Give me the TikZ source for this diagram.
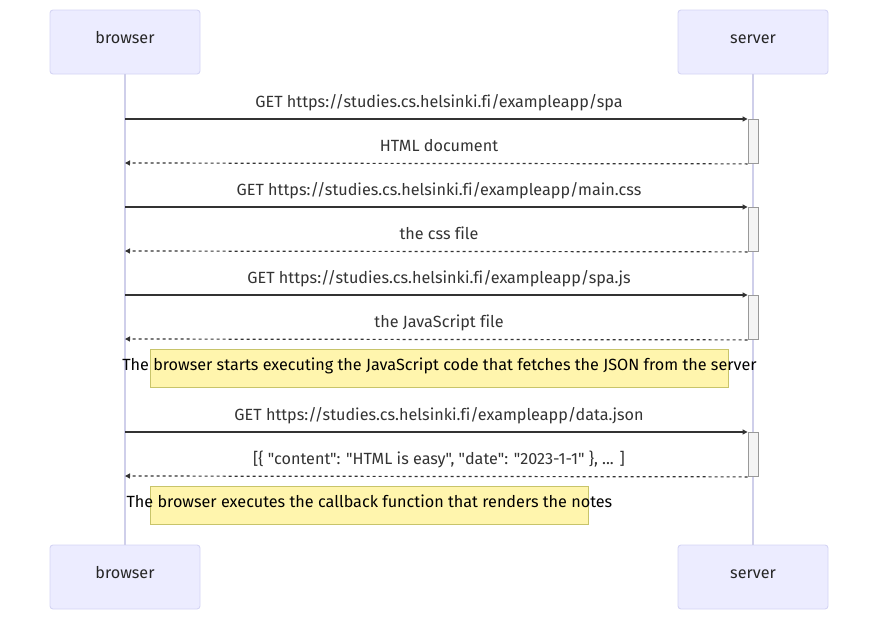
\documentclass[tikz,border=0pt]{standalone}
\usepackage{fontspec}
\newfontfamily\mfam{Fira Sans}[Ligatures=NoCommon]
\usetikzlibrary{arrows.meta}
\definecolor{actorfill}{HTML}{ECECFF}
\definecolor{actorline}{HTML}{D4D4F4}
\definecolor{lifecol}{HTML}{CFCFEA}
\definecolor{msgcol}{HTML}{333333}
\definecolor{actfill}{HTML}{F4F4F4}
\definecolor{actstroke}{HTML}{999999}
\definecolor{notefill}{HTML}{FFF5AD}
\definecolor{notestroke}{HTML}{C8C46A}
\newcommand{\msgfont}{\mfam\fontsize{16.2}{19}\selectfont}
\begin{document}
\begin{tikzpicture}[x=1pt, y=-1pt,
    actor/.style={draw=actorline, fill=actorfill, rounded corners=3pt, line width=0.9pt,
      minimum width=150pt, minimum height=64pt, inner sep=0pt, font=\msgfont, text=black!85},
    life/.style={line width=1.3pt, lifecol},
    call/.style={line width=1.2pt, msgcol, -{Triangle[length=5pt, width=5pt]}},
    reply/.style={call, dash pattern=on 3pt off 3pt},
    act/.style={draw=actstroke, fill=actfill, line width=0.9pt, minimum width=10pt,
      minimum height=44pt, inner sep=0pt},
    note/.style={draw=notestroke, fill=notefill, line width=0.9pt, minimum height=38pt, inner sep=0pt},
    lbl/.style={font=\msgfont, text=msgcol, inner sep=0pt, text height=12pt, text depth=4pt}]
  \useasboundingbox (0,0) rectangle (878,621);
  % ---------------- participants ----------------
  \node[actor] (b1) at (125,42)  {};
  \node[actor] (s1) at (753,42)  {};
  \node[actor] (b2) at (125,577) {};
  \node[actor] (s2) at (753,577) {};
  \foreach \a/\t in {b1/browser, s1/server, b2/browser, s2/server}
    \node[lbl, text=black!85, yshift=2.5pt] (\a t) at (\a) {\t};
  \draw[life] (b1) -- (b2);
  \draw[life] (s1) -- (s2);
  % ---------------- request / response pairs ----------------
  \foreach \i/\y/\req/\res in {
      1/119/{GET https://studies.cs.helsinki.fi/exampleapp/spa}/{HTML document},
      2/207/{GET https://studies.cs.helsinki.fi/exampleapp/main.css}/{the css file},
      3/295/{GET https://studies.cs.helsinki.fi/exampleapp/spa.js}/{the JavaScript file},
      4/432/{GET https://studies.cs.helsinki.fi/exampleapp/data.json}/{[\{ "content": "HTML is easy", "date": "2023-1-1" \}, ... ]}} {
    \node[act, anchor=north] (a\i) at (753,\y) {};
    \coordinate (q\i) at (125,\y);
    \coordinate (r\i) at (125,\y+44);
    \node[lbl] (m\i) at (439,\y-15.5) {\req};
    \node[lbl] (p\i) at (439,\y+28) {\res};
    \draw[call]  (q\i) -- (a\i.north west);
    \draw[reply] (a\i.south west) -- (r\i);
  }
  % ---------------- notes over browser ----------------
  \node[note, minimum width=578pt, anchor=north west] (n1) at (150,349) {};
  \node[lbl, text=black, yshift=1.5pt] (t1) at (n1) {The browser starts executing the JavaScript code that fetches the JSON from the server};
  \node[note, minimum width=438pt, anchor=north west] (n2) at (150,486) {};
  \node[lbl, text=black, yshift=1.5pt] (t2) at (n2) {The browser executes the callback function that renders the notes};
\end{tikzpicture}
\end{document}
